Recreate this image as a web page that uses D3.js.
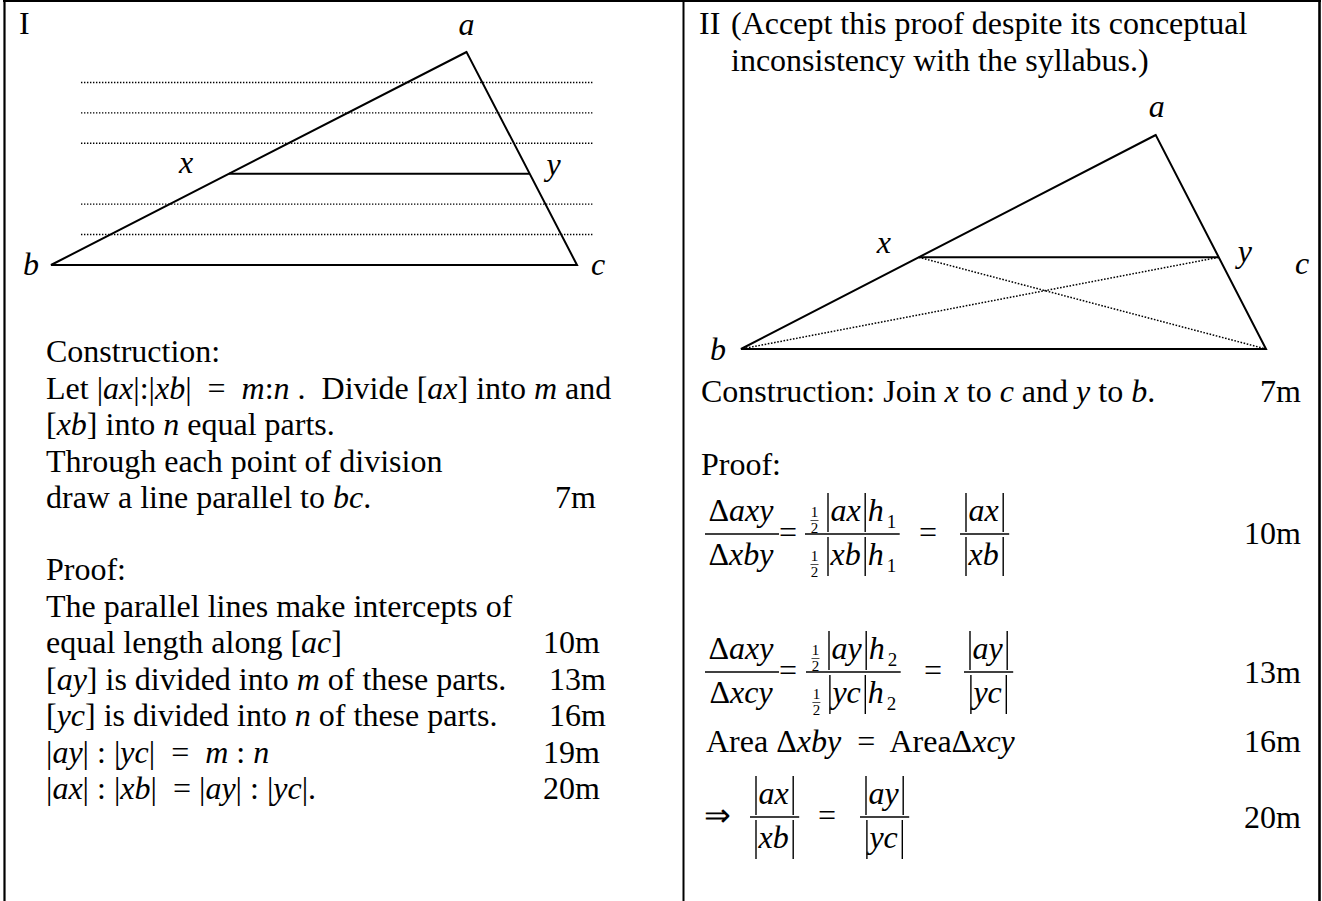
<!DOCTYPE html>
<html><head><meta charset="utf-8">
<script src="https://cdn.jsdelivr.net/npm/d3@7"></script>
<style>
html,body{margin:0;padding:0;background:#fff;}
svg{display:block;}
text{font-family:"Liberation Serif","Times New Roman",serif;fill:#000;white-space:pre;}
</style>
</head><body>
<svg id="chart" width="1322" height="901"></svg>
<script>
// ---------------- data ----------------
const ratioParts = {m: 4, n: 3};                 // |ax| : |xb| = m : n
const triangleVertices = [                        // shape in unit coords (b at origin, c at u=100, apex a at v=100)
  {id: "a", u: 79, v: 100},
  {id: "b", u: 0,  v: 0},
  {id: "c", u: 100, v: 0}
];
const dottedExtent = [5.7, 103.2];               // u-extent of the parallel construction lines (panel I)

const leftConstruction = [
  [["Construction:",""]],
  [["Let |",""],["ax","i"],["|:|",""],["xb","i"],["|  =  ",""],["m","i"],[":",""],["n","i"],[" .  Divide [",""],["ax","i"],["] into ",""],["m","i"],[" and",""]],
  [["[",""],["xb","i"],["] into ",""],["n","i"],[" equal parts.",""]],
  [["Through each point of division",""]],
  [["draw a line parallel to ",""],["bc","i"],[".",""]]
];
const leftConstructionMarks = [null, null, null, null, "7m"];
const leftProof = [
  [["Proof:",""]],
  [["The parallel lines make intercepts of",""]],
  [["equal length along [",""],["ac","i"],["]",""]],
  [["[",""],["ay","i"],["] is divided into ",""],["m","i"],[" of these parts.",""]],
  [["[",""],["yc","i"],["] is divided into ",""],["n","i"],[" of these parts.",""]],
  [["|",""],["ay","i"],["| : |",""],["yc","i"],["|  =  ",""],["m","i"],[" : ",""],["n","i"]],
  [["|",""],["ax","i"],["| : |",""],["xb","i"],["|  = |",""],["ay","i"],["| : |",""],["yc","i"],["|.",""]]
];
const leftProofMarks = [null, null, "10m", "13m", "16m", "19m", "20m"];

const rightHeader = ["II", "(Accept this proof despite its conceptual", "inconsistency with the syllabus.)"];
const rightConstruction = [["Construction: Join ",""],["x","i"],[" to ",""],["c","i"],[" and ",""],["y","i"],[" to ",""],["b","i"],[".",""]];
const rightMarks = ["7m", "10m", "13m", "16m", "20m"];

const eqAxyXby = [
  {frac: [[{r:"Δ"},{i:"axy"}], [{r:"Δ"},{i:"xby"}]]},
  {op: "="},
  {frac: [[{half:1},{bar:1},{i:"ax"},{bar:1},{i:"h"},{sub:"1"}], [{half:1},{bar:1},{i:"xb"},{bar:1},{i:"h"},{sub:"1"}]]},
  {op: "="},
  {frac: [[{bar:1},{i:"ax"},{bar:1}], [{bar:1},{i:"xb"},{bar:1}]]}
];
const eqAxyXcy = [
  {frac: [[{r:"Δ"},{i:"axy"}], [{r:"Δ"},{i:"xcy"}]]},
  {op: "="},
  {frac: [[{half:1},{bar:1},{i:"ay"},{bar:1},{i:"h"},{sub:"2"}], [{half:1},{bar:1},{i:"yc"},{bar:1},{i:"h"},{sub:"2"}]]},
  {op: "="},
  {frac: [[{bar:1},{i:"ay"},{bar:1}], [{bar:1},{i:"yc"},{bar:1}]]}
];
const areaRow = [["Area Δ",""],["xby","i"],["  =  AreaΔ",""],["xcy","i"]];
const eqConclusion = [
  {op: "⇒"},
  {frac: [[{bar:1},{i:"ax"},{bar:1}], [{bar:1},{i:"xb"},{bar:1}]]},
  {op: "="},
  {frac: [[{bar:1},{i:"ay"},{bar:1}], [{bar:1},{i:"yc"},{bar:1}]]}
];

// ---------------- drawing ----------------
const FS = 32, LH = 36.5;
const svg = d3.select("#chart");

// frame
const frame = svg.append("g").attr("stroke","#000");
frame.append("line").attr("x1",3).attr("x2",1321).attr("y1",1).attr("y2",1).attr("stroke-width",2);
frame.append("line").attr("x1",4.5).attr("x2",4.5).attr("y1",0).attr("y2",901).attr("stroke-width",2.2);
frame.append("line").attr("x1",683.5).attr("x2",683.5).attr("y1",0).attr("y2",901).attr("stroke-width",2);
frame.append("line").attr("x1",1319.5).attr("x2",1319.5).attr("y1",0).attr("y2",901).attr("stroke-width",2.6);

function styledText(g, x, y, segs, fs, anchor) {
  const t = g.append("text").attr("x", x).attr("y", y)
    .attr("font-size", fs).attr("text-anchor", anchor || "start");
  segs.forEach(s => t.append("tspan").attr("font-style", s[1] === "i" ? "italic" : "normal").text(s[0]));
  return t;
}

function drawTriangle(g, xs, ys, labelOffsets, dotted) {
  const P = {};
  triangleVertices.forEach(d => P[d.id] = [xs(d.u), ys(d.v)]);
  const t = ratioParts.m / (ratioParts.m + ratioParts.n);
  const lerp = (p, q, k) => [p[0] + (q[0]-p[0])*k, p[1] + (q[1]-p[1])*k];
  P.x = lerp(P.a, P.b, t);
  P.y = lerp(P.a, P.c, t);
  const line = d3.line();
  if (dotted === "parallels") {
    const av = triangleVertices.find(d=>d.id==="a").v;
    const xv = av * (1 - t);
    const levels = [];
    for (let k = 1; k < ratioParts.m; k++) levels.push(av - k*(av - xv)/ratioParts.m);
    for (let k = 1; k < ratioParts.n; k++) levels.push(xv - k*xv/ratioParts.n);
    g.selectAll(".par").data(levels).join("line").attr("class","par")
      .attr("x1", xs(dottedExtent[0])).attr("x2", xs(dottedExtent[1]))
      .attr("y1", d => ys(d)).attr("y2", d => ys(d))
      .attr("stroke","#000").attr("stroke-width",1.4).attr("stroke-dasharray","1.4,1.6");
  } else {
    [[P.x, P.c], [P.y, P.b]].forEach(s =>
      g.append("path").attr("d", line(s)).attr("stroke","#000").attr("stroke-width",1.5).attr("stroke-dasharray","1.6,1.6"));
  }
  g.append("path").attr("d", line([P.a, P.b, P.c]) + "Z").attr("fill","none").attr("stroke","#000").attr("stroke-width",2).attr("stroke-linejoin","miter");
  g.append("path").attr("d", line([P.x, P.y])).attr("stroke","#000").attr("stroke-width",2);
  Object.entries(labelOffsets).forEach(([k, o]) => {
    styledText(g, P[k][0] + o[0], P[k][1] + o[1], [[k,"i"]], FS, "middle");
  });
}

// Panel I
const gL = svg.append("g");
styledText(gL, 19, 34, [["I",""]], FS);
drawTriangle(gL,
  d3.scaleLinear().domain([0,100]).range([51,577]),
  d3.scaleLinear().domain([0,100]).range([265,52]),
  {a:[0,-17], x:[-43,-1], y:[24,1], b:[-20,10], c:[21,10]}, "parallels");

leftConstruction.forEach((row, i) => {
  const y = 362 + i*LH;
  styledText(gL, 46, y, row, FS);
  if (leftConstructionMarks[i]) styledText(gL, 596, y, [[leftConstructionMarks[i],""]], FS, "end");
});
leftProof.forEach((row, i) => {
  const y = 580 + i*LH;
  styledText(gL, 46, y, row, FS);
  if (leftProofMarks[i]) styledText(gL, 600 + ((i===3||i===4)?6:0), y, [[leftProofMarks[i],""]], FS, "end");
});

// Panel II
const gR = svg.append("g");
styledText(gR, 699, 34, [[rightHeader[0],""]], FS);
styledText(gR, 731, 34, [[rightHeader[1],""]], FS);
styledText(gR, 731, 70.5, [[rightHeader[2],""]], FS);
drawTriangle(gR,
  d3.scaleLinear().domain([0,100]).range([741,1266]),
  d3.scaleLinear().domain([0,100]).range([349,135]),
  {a:[1,-18], x:[-35,-4], y:[26,5], b:[-23,11], c:[36,-75]}, "cross");

styledText(gR, 701, 402, rightConstruction, FS);
styledText(gR, 701, 475, [["Proof:",""]], FS);

function measure(node) { return node.getComputedTextLength(); }

function drawTokens(g, tokens, fs) {
  let cx = 0;
  tokens.forEach(t => {
    if (t.bar) {
      g.append("line").attr("x1",cx+2.5).attr("x2",cx+2.5).attr("y1",-28).attr("y2",11)
        .attr("stroke","#000").attr("stroke-width",1.4);
      cx += 5;
    } else if (t.half) {
      g.append("text").attr("x",cx+6).attr("y",-4).attr("font-size",15).attr("text-anchor","middle").text("1");
      g.append("text").attr("x",cx+6).attr("y",12).attr("font-size",15).attr("text-anchor","middle").text("2");
      g.append("line").attr("x1",cx+2).attr("x2",cx+10).attr("y1",-0.5).attr("y2",-0.5).attr("stroke","#000").attr("stroke-width",0.7);
      cx += 17;
    } else if (t.sub) {
      const n = g.append("text").attr("x",cx+1).attr("y",7).attr("font-size",19).text(t.sub);
      cx += measure(n.node()) + 1;
    } else {
      const n = g.append("text").attr("x",cx).attr("y",0).attr("font-size",fs)
        .attr("font-style", t.i ? "italic" : "normal").text(t.i || t.r);
      cx += measure(n.node()) + (t.i ? 2 : 0);
    }
  });
  return cx;
}

function drawEquation(g, items, starts, barY) {
  items.forEach((it, k) => {
    const cx = starts[k];
    if (it.frac) {
      const num = g.append("g"), den = g.append("g");
      const wn = drawTokens(num, it.frac[0], FS), wd = drawTokens(den, it.frac[1], FS);
      const w = Math.max(wn, wd) + 7;
      num.attr("transform", `translate(${cx + (w - wn)/2},${barY - 13})`);
      den.attr("transform", `translate(${cx + (w - wd)/2},${barY + 31})`);
      g.append("line").attr("x1",cx).attr("x2",cx+w).attr("y1",barY).attr("y2",barY).attr("stroke","#000").attr("stroke-width",1.4);
    } else {
      styledText(g, cx, barY + 9, [[it.op,""]], FS);
    }
  });
}

drawEquation(gR, eqAxyXby, [705, 779, 805, 919, 960], 534);
drawEquation(gR, eqAxyXcy, [705, 779, 806, 924, 964], 672);
styledText(gR, 706, 752, areaRow, FS);
drawEquation(gR, eqConclusion, [704, 750, 818, 860], 817);

const markY = [402, 544, 683, 752, 828];
rightMarks.forEach((m, i) => styledText(gR, 1301, markY[i], [[m,""]], FS, "end"));
</script>
</body></html>
